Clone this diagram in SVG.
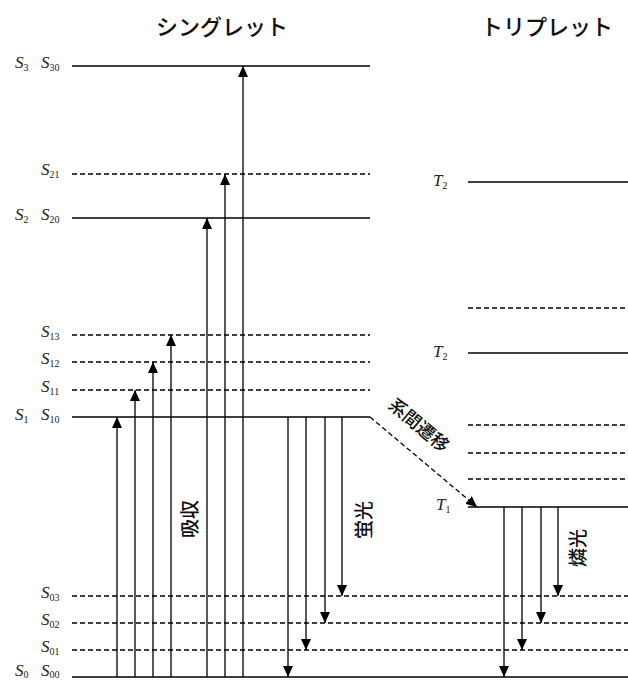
<svg xmlns="http://www.w3.org/2000/svg" width="628" height="682" viewBox="0 0 628 682">
<style>
.bg{fill:#fff}
.ln{stroke:#000;stroke-width:1.3;fill:none}
.ds{stroke:#000;stroke-width:1.3;fill:none;stroke-dasharray:5 3}
.ar{stroke:#000;stroke-width:1.3;fill:none;marker-end:url(#ah)}
.dar{stroke:#000;stroke-width:1.3;fill:none;stroke-dasharray:5 3;marker-end:url(#ah)}
.hd{font-family:"Noto Sans CJK JP","Noto Sans",sans-serif;font-size:22px;font-weight:500;fill:#111}
.jp{font-family:"Noto Sans CJK JP","Noto Sans",sans-serif;font-size:19px;font-weight:500;fill:#111}
.lb{font-family:"Liberation Serif",serif;font-size:17px;font-style:italic;fill:#222}
.sb{font-size:10px;font-style:normal}
</style>
<defs>
<marker id="ah" markerUnits="userSpaceOnUse" markerWidth="11" markerHeight="10" refX="11" refY="5" orient="auto" viewBox="0 0 11 10">
<path d="M0,0 L11,5 L0,10 Z" fill="#000"/>
</marker>
</defs>
<rect class="bg" x="0" y="0" width="628" height="682"/>

<g id="headers">
<text class="hd" x="222" y="35" text-anchor="middle">シングレット</text>
<text class="hd" x="547" y="35" text-anchor="middle">トリプレット</text>
</g>

<g id="singlet-levels">
<line class="ln" x1="72" y1="66" x2="370" y2="66"/>
<line class="ds" x1="72" y1="174" x2="370" y2="174"/>
<line class="ln" x1="72" y1="218" x2="370" y2="218"/>
<line class="ds" x1="72" y1="335" x2="370" y2="335"/>
<line class="ds" x1="72" y1="362" x2="370" y2="362"/>
<line class="ds" x1="72" y1="390" x2="370" y2="390"/>
<line class="ln" x1="72" y1="417" x2="370" y2="417"/>
</g>

<g id="ground-levels">
<line class="ds" x1="72" y1="596" x2="628" y2="596"/>
<line class="ds" x1="72" y1="623" x2="628" y2="623"/>
<line class="ds" x1="72" y1="650" x2="628" y2="650"/>
<line class="ln" x1="72" y1="677" x2="628" y2="677"/>
</g>

<g id="triplet-levels">
<line class="ln" x1="468" y1="182" x2="628" y2="182"/>
<line class="ds" x1="468" y1="308" x2="628" y2="308"/>
<line class="ln" x1="468" y1="353" x2="628" y2="353"/>
<line class="ds" x1="468" y1="425" x2="628" y2="425"/>
<line class="ds" x1="468" y1="453" x2="628" y2="453"/>
<line class="ds" x1="468" y1="479" x2="628" y2="479"/>
<line class="ln" x1="468" y1="507" x2="628" y2="507"/>
</g>

<g id="level-labels" class="lb">
<text x="15" y="68">S<tspan class="sb" dy="3">3</tspan></text>
<text x="41" y="68">S<tspan class="sb" dy="3">30</tspan></text>
<text x="41" y="175">S<tspan class="sb" dy="3">21</tspan></text>
<text x="15" y="220">S<tspan class="sb" dy="3">2</tspan></text>
<text x="41" y="220">S<tspan class="sb" dy="3">20</tspan></text>
<text x="41" y="337">S<tspan class="sb" dy="3">13</tspan></text>
<text x="41" y="364">S<tspan class="sb" dy="3">12</tspan></text>
<text x="41" y="392">S<tspan class="sb" dy="3">11</tspan></text>
<text x="15" y="420">S<tspan class="sb" dy="3">1</tspan></text>
<text x="41" y="420">S<tspan class="sb" dy="3">10</tspan></text>
<text x="41" y="598">S<tspan class="sb" dy="3">03</tspan></text>
<text x="41" y="625">S<tspan class="sb" dy="3">02</tspan></text>
<text x="41" y="652">S<tspan class="sb" dy="3">01</tspan></text>
<text x="15" y="676">S<tspan class="sb" dy="2">0</tspan></text>
<text x="41" y="676">S<tspan class="sb" dy="2">00</tspan></text>
<text x="433" y="186">T<tspan class="sb" dy="3">2</tspan></text>
<text x="433" y="357">T<tspan class="sb" dy="3">2</tspan></text>
<text x="436" y="510">T<tspan class="sb" dy="3">1</tspan></text>
</g>

<g id="connectors">
<line class="ar" x1="117" y1="677" x2="117" y2="417"/>
<line class="ar" x1="135" y1="677" x2="135" y2="390"/>
<line class="ar" x1="153" y1="677" x2="153" y2="362"/>
<line class="ar" x1="171" y1="677" x2="171" y2="335"/>
<line class="ar" x1="207" y1="677" x2="207" y2="218"/>
<line class="ar" x1="225" y1="677" x2="225" y2="174"/>
<line class="ar" x1="243" y1="677" x2="243" y2="66"/>
<line class="ar" x1="288" y1="417" x2="288" y2="677"/>
<line class="ar" x1="306" y1="417" x2="306" y2="650"/>
<line class="ar" x1="325" y1="417" x2="325" y2="623"/>
<line class="ar" x1="342" y1="417" x2="342" y2="596"/>
<line class="dar" x1="370" y1="417" x2="477" y2="507"/>
<line class="ar" x1="504" y1="507" x2="504" y2="677"/>
<line class="ar" x1="522" y1="507" x2="522" y2="650"/>
<line class="ar" x1="541" y1="507" x2="541" y2="623"/>
<line class="ar" x1="558" y1="507" x2="558" y2="596"/>
</g>

<g id="process-labels" class="jp">
<text transform="translate(188,519) rotate(-90)" text-anchor="middle" dominant-baseline="central">吸収</text>
<text transform="translate(362,520) rotate(-90)" text-anchor="middle" dominant-baseline="central">蛍光</text>
<text transform="translate(576,548) rotate(-90)" text-anchor="middle" dominant-baseline="central">燐光</text>
<text transform="translate(420,424) rotate(40)" text-anchor="middle" dominant-baseline="central" style="font-size:18px">系間遷移</text>
</g>
</svg>
